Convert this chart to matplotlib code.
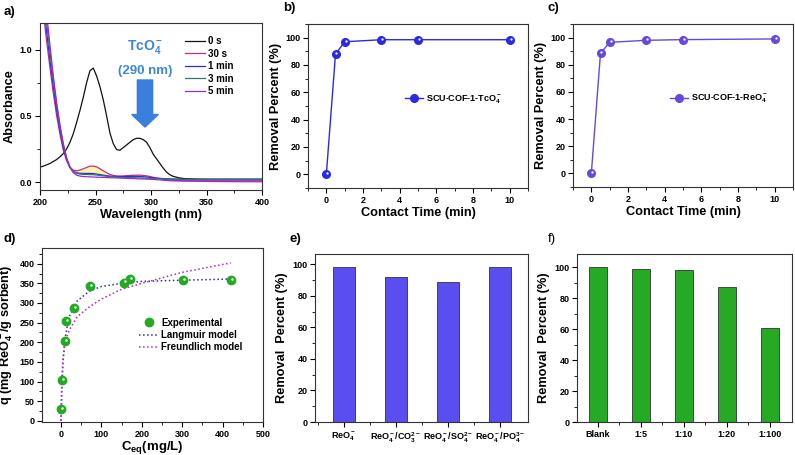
import matplotlib
matplotlib.use("Agg")
import matplotlib.pyplot as plt
from matplotlib.ticker import MultipleLocator, FixedLocator
from matplotlib.transforms import offset_copy

plt.rcParams['font.family'] = ['Liberation Sans', 'DejaVu Sans']
plt.rcParams['font.weight'] = 'bold'
plt.rcParams['axes.labelweight'] = 'bold'
plt.rcParams['mathtext.fontset'] = 'custom'
plt.rcParams['mathtext.rm'] = 'Liberation Sans:bold'
plt.rcParams['mathtext.it'] = 'Liberation Sans:bold'
plt.rcParams['mathtext.bf'] = 'Liberation Sans:bold'
plt.rcParams['mathtext.default'] = 'rm'

# ---------------- data ----------------
# a) UV-vis spectra
wavelength = [200, 203, 206, 209, 212, 215, 218, 221, 224, 227, 230, 233, 236, 239, 242, 245, 248,
              251, 254, 257, 260, 263, 266, 269, 272, 275, 278, 281, 284, 287, 290, 293, 296, 299,
              302, 305, 308, 311, 314, 317, 320, 325, 330, 340, 350, 360, 375, 400]
abs_0s = [0.113, 0.12, 0.13, 0.14, 0.155, 0.17, 0.19, 0.215, 0.25, 0.30, 0.365, 0.45, 0.54, 0.64, 0.75,
          0.84, 0.86, 0.80, 0.72, 0.62, 0.50, 0.37, 0.29, 0.245, 0.24, 0.26, 0.28, 0.30, 0.32, 0.33,
          0.33, 0.32, 0.30, 0.26, 0.21, 0.175, 0.14, 0.105, 0.075, 0.055, 0.043, 0.032, 0.026, 0.022,
          0.02, 0.02, 0.02, 0.02]
abs_30s = [1.5, 1.28, 1.06, 0.86, 0.67, 0.5, 0.36, 0.24, 0.16, 0.11, 0.09, 0.085, 0.09, 0.10, 0.11,
           0.12, 0.12, 0.115, 0.10, 0.085, 0.07, 0.058, 0.05, 0.046, 0.045, 0.046, 0.048, 0.05, 0.051,
           0.052, 0.052, 0.05, 0.047, 0.042, 0.036, 0.03, 0.025, 0.02, 0.017, 0.015, 0.013, 0.012,
           0.011, 0.01, 0.01, 0.01, 0.01, 0.01]
abs_1min = [1.6, 1.36, 1.13, 0.92, 0.72, 0.54, 0.39, 0.26, 0.17, 0.11, 0.08, 0.07, 0.066, 0.065, 0.065,
            0.065, 0.064, 0.06, 0.056, 0.052, 0.048, 0.045, 0.043, 0.042, 0.042, 0.042, 0.042, 0.043,
            0.043, 0.043, 0.042, 0.04, 0.038, 0.035, 0.032, 0.03, 0.028, 0.026, 0.025, 0.024, 0.023,
            0.022, 0.022, 0.022, 0.022, 0.022, 0.022, 0.022]
abs_3min = [1.7, 1.44, 1.2, 0.98, 0.77, 0.58, 0.42, 0.28, 0.18, 0.115, 0.08, 0.065, 0.06, 0.058, 0.057,
            0.056, 0.055, 0.053, 0.05, 0.047, 0.044, 0.041, 0.039, 0.037, 0.036, 0.035, 0.034, 0.033,
            0.033, 0.032, 0.031, 0.03, 0.029, 0.028, 0.027, 0.026, 0.025, 0.024, 0.023, 0.022, 0.021,
            0.02, 0.02, 0.02, 0.019, 0.019, 0.019, 0.019]
abs_5min = [1.8, 1.52, 1.27, 1.03, 0.8, 0.6, 0.43, 0.29, 0.18, 0.11, 0.07, 0.052, 0.045, 0.042, 0.04,
            0.039, 0.038, 0.037, 0.036, 0.035, 0.034, 0.033, 0.032, 0.031, 0.03, 0.029, 0.028, 0.027,
            0.026, 0.025, 0.024, 0.023, 0.022, 0.021, 0.02, 0.018, 0.016, 0.014, 0.012, 0.01, 0.009,
            0.008, 0.007, 0.006, 0.005, 0.004, 0.003, 0.002]
spectra_labels = ['0 s', '30 s', '1 min', '3 min', '5 min']

# b), c) kinetics
contact_time = [0, 0.5, 1, 3, 5, 10]
removal_tc = [0, 88, 97, 98.5, 98.5, 98.5]
removal_re = [0, 88.5, 96.5, 98, 98.5, 99]

# d) isotherm
ceq_exp = [0, 2, 10, 12, 33, 72, 155, 172, 302, 420]
q_exp = [30, 103, 202, 253, 286, 344, 352, 360, 358, 358]
ceq_model = [0, 2, 5, 10, 20, 40, 70, 100, 150, 200, 300, 420]
q_langmuir = [0, 75, 150, 210, 265, 305, 330, 342, 350, 355, 358, 361]
q_freundlich = [0, 100, 160, 200, 230, 265, 290, 310, 335, 350, 378, 402]

# e) competing anions
anion_labels = [r'ReO$_4^-$', r'ReO$_4^-$/CO$_3^{2-}$', r'ReO$_4^-$/SO$_4^{2-}$', r'ReO$_4^-$/PO$_4^{3-}$']
anion_removal = [98, 92, 89, 98]

# f) ratio
ratio_labels = ['Blank', '1:5', '1:10', '1:20', '1:100']
ratio_removal = [100, 98.5, 98, 87, 60.5]

# ---------------- layout ----------------
W, H = 795, 455
fig = plt.figure(figsize=(W / 100, H / 100), dpi=100)


def add_ax(l, r, t, b):
    return fig.add_axes([l / W, 1 - b / H, (r - l) / W, (b - t) / H])


TICK = 6.5
LAB = 9.2


def style(ax):
    ax.tick_params(which='major', direction='out', length=3.5, width=0.8, labelsize=TICK,
                   top=False, right=False, pad=2)
    ax.tick_params(which='minor', direction='out', length=2, width=0.6, top=False, right=False)
    for s in ax.spines.values():
        s.set_linewidth(0.8)
        s.set_color('#333333')
    for lbl in ax.get_xticklabels() + ax.get_yticklabels():
        lbl.set_fontweight('bold')


def sphere(ax, x, y, color, ms):
    ax.plot(x, y, 'o', color=color, mec=color, ms=ms, zorder=4)
    tr = offset_copy(ax.transData, fig=fig, x=0.7, y=0.8, units='points')
    ax.plot(x, y, 'o', color='white', mec='none', ms=ms * 0.3, transform=tr, zorder=5)


# a)
axa = add_ax(40, 262, 23, 190)
spec_colors = ['#111111', '#cc2a88', '#2a2ae0', '#2a7a6a', '#9a2ad0']
axa.fill_between(wavelength, abs_1min, abs_30s, where=[w >= 228 for w in wavelength],
                 color='#fff4a8', lw=0, zorder=1)
for vals, c, lab in zip([abs_0s, abs_30s, abs_1min, abs_3min, abs_5min], spec_colors, spectra_labels):
    axa.plot(wavelength, vals, color=c, lw=0.9, label=lab, zorder=2)
axa.set_xlim(200, 400)
axa.set_ylim(-0.06, 1.2)
axa.xaxis.set_major_locator(MultipleLocator(50))
axa.xaxis.set_minor_locator(MultipleLocator(25))
axa.yaxis.set_major_locator(MultipleLocator(0.5))
axa.yaxis.set_minor_locator(MultipleLocator(0.25))
axa.set_xlabel('Wavelength (nm)', fontsize=LAB, labelpad=2)
axa.set_ylabel('Absorbance', fontsize=LAB, labelpad=3)
style(axa)
leg = axa.legend(loc='upper left', bbox_to_anchor=(0.655, 0.92), frameon=False, fontsize=7,
                 handlelength=2.0, handletextpad=0.3, labelspacing=0.25, borderpad=0, borderaxespad=0)
for t in leg.get_texts():
    t.set_fontweight('bold')
axa.text(294.6, 1.02, r'TcO$_4^-$', color='#3a86e0', fontsize=10, fontweight='bold',
         ha='center', va='center')
axa.text(294.6, 0.84, '(290 nm)', color='#3a86e0', fontsize=9.5, fontweight='bold',
         ha='center', va='center')
axa.annotate('', xy=(294.6, 0.415), xytext=(294.6, 0.77),
             arrowprops=dict(arrowstyle='simple,head_width=0.95,head_length=0.45,tail_width=0.55',
                             fc='#3a7fdc', ec='#3a7fdc', mutation_scale=20, shrinkA=0, shrinkB=0))


# b), c)
def kinetics(ax, y, color, label):
    ax.plot(contact_time, y, '-', color=color, lw=1.0, zorder=3)
    sphere(ax, contact_time, y, color, 5.5)
    ax.set_xlim(-1, 11)
    ax.set_ylim(-10, 110)
    ax.xaxis.set_major_locator(MultipleLocator(2))
    ax.xaxis.set_minor_locator(MultipleLocator(1))
    ax.yaxis.set_major_locator(MultipleLocator(20))
    ax.yaxis.set_minor_locator(MultipleLocator(10))
    ax.set_xlabel('Contact Time (min)', fontsize=LAB, labelpad=2)
    ax.set_ylabel('Removal Percent (%)', fontsize=LAB, labelpad=2)
    style(ax)
    h, = ax.plot([], [], '-o', color=color, lw=1.0, ms=5.5)
    lg = ax.legend([h], [label], loc='center left', bbox_to_anchor=(0.44, 0.54), frameon=False,
                   fontsize=6.5, handlelength=2.0, handletextpad=0.3, borderpad=0, borderaxespad=0)
    for t in lg.get_texts():
        t.set_fontweight('bold')


axb = add_ax(308, 528, 24, 188)
kinetics(axb, removal_tc, '#2a2ae6', r'SCU-COF-1-TcO$_4^-$')
axc = add_ax(573, 793, 24, 187)
kinetics(axc, removal_re, '#6648e0', r'SCU-COF-1-ReO$_4^-$')

# d)
axd = add_ax(42, 263, 248, 422)
axd.plot(ceq_model, q_langmuir, ':', color='#2a2ad0', lw=1.1, zorder=2, label='Langmuir model')
axd.plot(ceq_model, q_freundlich, ':', color='#b02ac0', lw=1.1, zorder=2, label='Freundlich model')
sphere(axd, ceq_exp, q_exp, '#22aa22', 6)
hexp, = axd.plot([], [], 'o', color='#22aa22', ms=6, label='Experimental')
axd.set_xlim(-47, 500)
axd.set_ylim(-3, 440)
axd.xaxis.set_major_locator(MultipleLocator(100))
axd.xaxis.set_minor_locator(MultipleLocator(50))
axd.yaxis.set_major_locator(MultipleLocator(50))
axd.yaxis.set_minor_locator(MultipleLocator(25))
axd.set_xlabel(r'C$_{\rm eq}$(mg/L)', fontsize=9.5, labelpad=0)
axd.set_ylabel(r'q (mg ReO$_4^-$/g sorbent)', fontsize=LAB, labelpad=3)
style(axd)
hs, ls = axd.get_legend_handles_labels()
order = [ls.index('Experimental'), ls.index('Langmuir model'), ls.index('Freundlich model')]
lg = axd.legend([hs[i] for i in order], [ls[i] for i in order], loc='upper left',
                bbox_to_anchor=(0.44, 0.6), frameon=False, fontsize=7, handlelength=2.0,
                handletextpad=0.25, labelspacing=0.25, borderpad=0, borderaxespad=0)
for t in lg.get_texts():
    t.set_fontweight('bold')


# e), f)
def bars(ax, labels, vals, color, xlim, ylim):
    pos = list(range(len(vals)))
    ax.bar(pos, vals, width=0.42, color=color, edgecolor='#333333', lw=0.6, zorder=2)
    ax.set_xlim(*xlim)
    ax.set_ylim(*ylim)
    ax.set_xticks(pos)
    ax.set_xticklabels(labels)
    ax.xaxis.set_minor_locator(FixedLocator([p + 0.5 for p in pos[:-1]] + [pos[0] - 0.5]))
    ax.yaxis.set_major_locator(MultipleLocator(20))
    ax.yaxis.set_minor_locator(MultipleLocator(10))
    ax.set_ylabel('Removal  Percent (%)', fontsize=LAB, labelpad=3)
    style(ax)
    ax.tick_params(axis='x', pad=2.5)


axe = add_ax(315, 528, 254, 422)
bars(axe, anion_labels, anion_removal, '#5a4ef0', (-0.55, 3.53), (0, 106.5))
axf = add_ax(577, 792, 254, 422)
bars(axf, ratio_labels, ratio_removal, '#26aa26', (-0.48, 4.51), (0, 108.4))

# panel letters
for txt, x, y, w in [('a)', 4, 12, 'bold'), ('b)', 283, 8, 'bold'), ('c)', 548, 8, 'bold'),
                     ('d)', 4, 239, 'bold'), ('e)', 289, 239, 'bold'), ('f)', 548, 239, 'normal')]:
    fig.text(x / W, 1 - y / H, txt, fontsize=9.5, fontweight=w, va='center', ha='left')

fig.savefig('out.png', dpi=100)
